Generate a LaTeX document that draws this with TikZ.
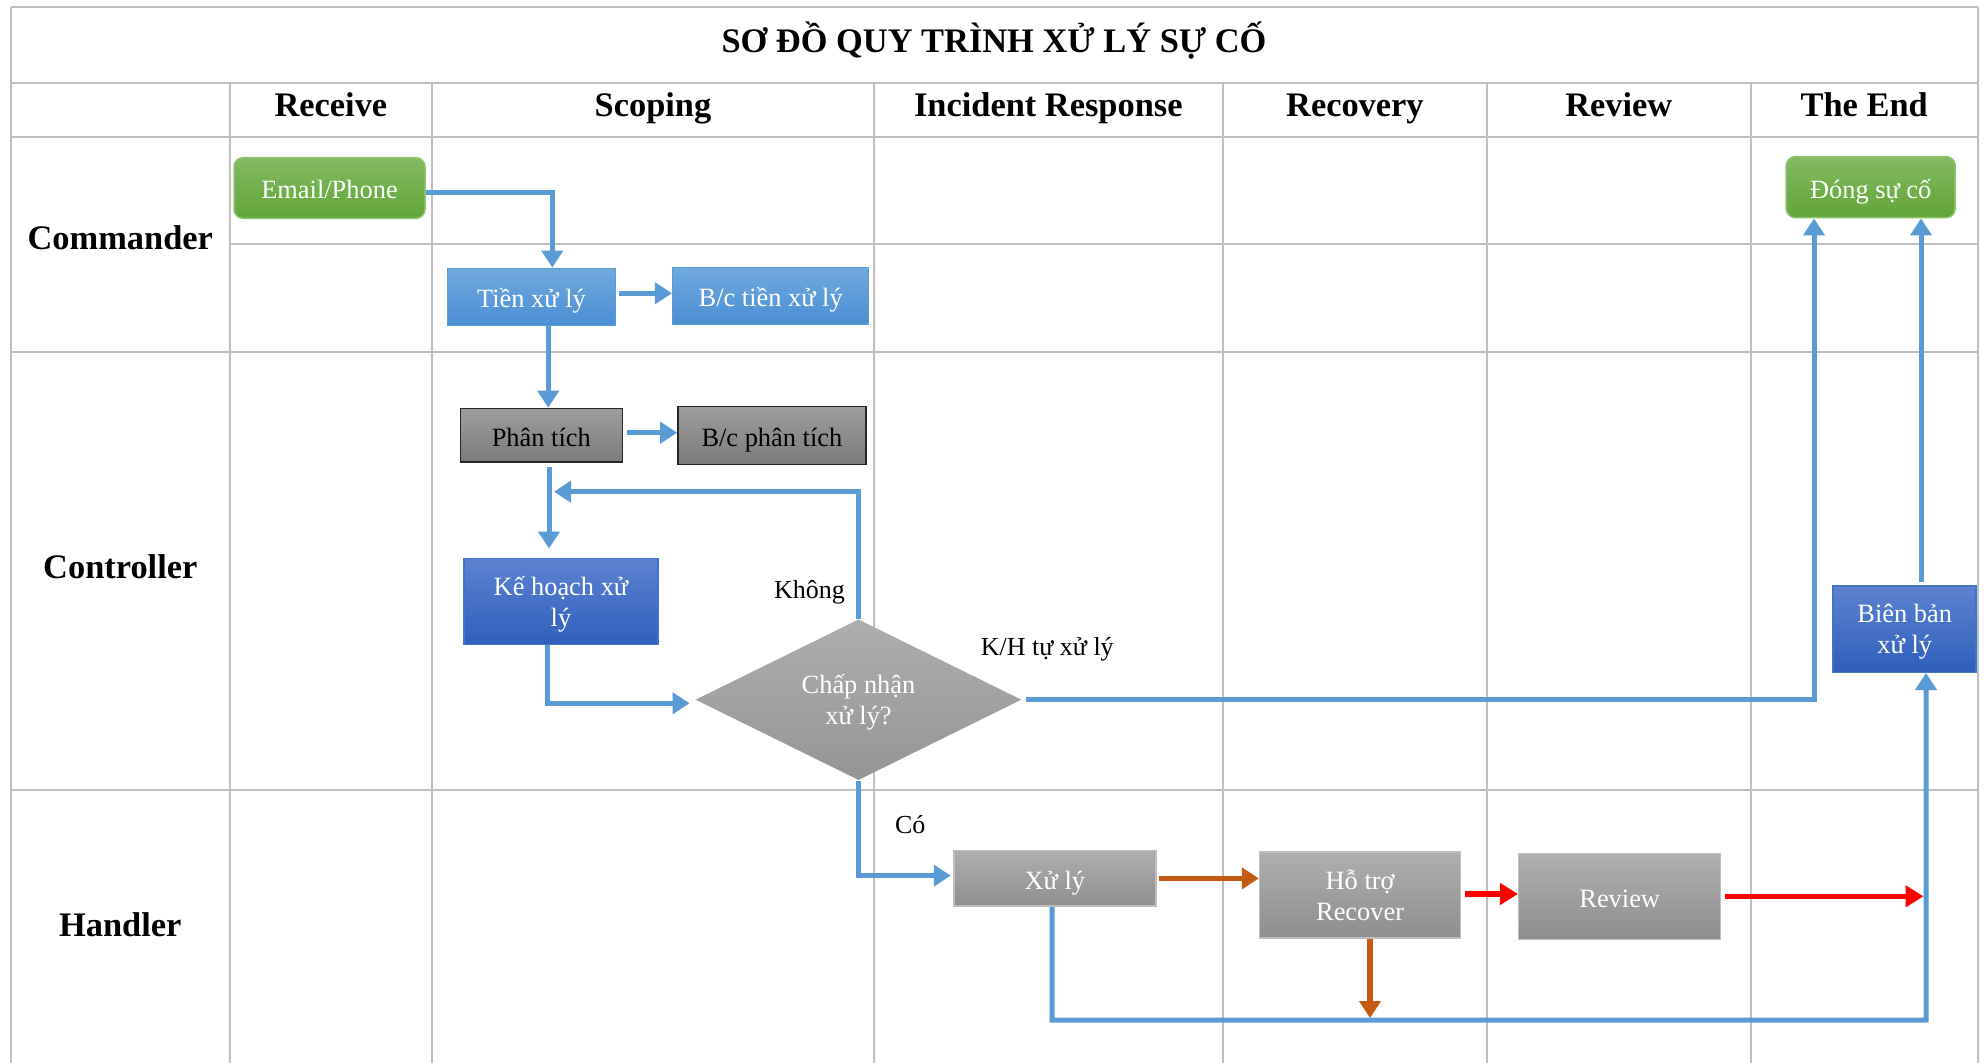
\documentclass[tikz,border=0pt]{standalone}
\usepackage{fontspec}
\setmainfont{Liberation Serif}
\usetikzlibrary{arrows.meta,shapes.geometric,calc}
\definecolor{gridc}{HTML}{BFBFBF}
\definecolor{cblue}{HTML}{5B9BD5}
\definecolor{corange}{HTML}{C55A11}
\definecolor{cred}{HTML}{FF0000}
\definecolor{greentop}{HTML}{83BA62}
\definecolor{greenbot}{HTML}{62A537}
\definecolor{greenbd}{HTML}{8DC46F}
\definecolor{lbtop}{HTML}{70A9DE}
\definecolor{lbbot}{HTML}{4B8ED3}
\definecolor{lbbd}{HTML}{5B9BD5}
\definecolor{dbtop}{HTML}{5D82D0}
\definecolor{dbbot}{HTML}{2F5FBB}
\definecolor{dbbd}{HTML}{4472C4}
\definecolor{gdtop}{HTML}{9E9E9E}
\definecolor{gdbot}{HTML}{7B7B7B}
\definecolor{gltop}{HTML}{AFAFAF}
\definecolor{glbot}{HTML}{8E8E8E}
\definecolor{diatop}{HTML}{AEAEAE}
\definecolor{diabot}{HTML}{959595}
\begin{document}
\begin{tikzpicture}[x=0.5pt,y=-0.5pt,
  gridline/.style={draw=gridc,line width=1pt},
  headtxt/.style={font=\fontsize{17.2}{20}\selectfont\bfseries,anchor=base,inner sep=0pt},
  lbl/.style={font=\fontsize{13}{15.6}\selectfont,inner sep=0pt},
  box/.style={inner sep=2pt,align=center,font=\fontsize{13.2}{15.6}\selectfont,line width=0.75pt},
  oneline/.style={text height=11pt,text depth=0pt},
  twoline/.style={text depth=0pt},
  greenbox/.style={box,draw=greenbd,rounded corners=4.5pt,top color=greentop,bottom color=greenbot,text=white},
  lbluebox/.style={box,draw=lbbd,top color=lbtop,bottom color=lbbot,text=white},
  dbluebox/.style={box,draw=dbbd,top color=dbtop,bottom color=dbbot,text=white},
  dgraybox/.style={box,draw=black!85,top color=gdtop,bottom color=gdbot,text=black},
  lgraybox/.style={box,draw=gridc,top color=gltop,bottom color=glbot,text=white},
  decision/.style={diamond,aspect=2,inner sep=0pt,align=center,font=\fontsize{13.2}{15.6}\selectfont,
    top color=diatop,bottom color=diabot,text=white},
  conn/.style={line width=2.5pt,draw=cblue,-{Triangle[length=8.5pt,width=10.5pt]}},
  orconn/.style={line width=2.6pt,draw=corange,-{Triangle[length=8.5pt,width=10.5pt]}},
  redconn/.style={line width=2.6pt,draw=cred,-{Triangle[length=9pt,width=10.5pt]}}
]
\useasboundingbox (0,0) rectangle (1984,1063);
% ---------- grid ----------
\draw[gridline] (11,6.7) -- (1977.7,6.7);
\draw[gridline] (11,83.3) -- (1977.7,83.3);
\draw[gridline] (11,136.7) -- (1977.7,136.7);
\draw[gridline] (229.6,243.7) -- (1977.7,243.7);
\draw[gridline] (11,351.7) -- (1977.7,351.7);
\draw[gridline] (11,790) -- (1977.7,790);
\draw[gridline] (11,6.7) -- (11,1063);
\draw[gridline] (1977.7,6.7) -- (1977.7,1063);
\foreach \xx in {229.6,432.2,873.7,1222.8,1487,1750.6}
  \draw[gridline] (\xx,83.3) -- (\xx,1063);
% ---------- titles ----------
\node[headtxt] (title) at (994,52.5) {SƠ ĐỒ QUY TRÌNH XỬ LÝ SỰ CỐ};
\node[headtxt] (hReceive) at (330.9,117) {Receive};
\node[headtxt] (hScoping) at (653,117) {Scoping};
\node[headtxt] (hIncident) at (1048.3,117) {Incident Response};
\node[headtxt] (hRecovery) at (1354.9,117) {Recovery};
\node[headtxt] (hReview) at (1618.8,117) {Review};
\node[headtxt] (hEnd) at (1864.2,117) {The End};
\node[headtxt] (rCommander) at (120.3,250) {Commander};
\node[headtxt] (rController) at (120.3,578.5) {Controller};
\node[headtxt] (rHandler) at (120.3,936) {Handler};
% ---------- boxes ----------
\node[greenbox,oneline,minimum width=95.5pt,minimum height=30.3pt] (email) at (329.5,188) {Email/Phone};
\node[lbluebox,oneline,minimum width=84pt,minimum height=28.7pt] (tien) at (531.5,297) {Tiền xử lý};
\node[lbluebox,oneline,minimum width=98pt,minimum height=28.5pt] (bctien) at (770.7,295.8) {B/c tiền xử lý};
\node[dgraybox,oneline,minimum width=81pt,minimum height=26.8pt] (phan) at (541.3,435.2) {Phân tích};
\node[dgraybox,oneline,minimum width=94pt,minimum height=28.8pt] (bcphan) at (771.9,435.5) {B/c phân tích};
\node[dbluebox,twoline,minimum width=97pt,minimum height=42.8pt] (kehoach) at (561,601.5) {Kế hoạch xử\\lý};
\node[decision,twoline,minimum width=163pt,minimum height=80.4pt] (dia) at (858.5,699.7) {Chấp nhận\\xử lý?};
\node[greenbox,oneline,minimum width=84.5pt,minimum height=30.5pt] (dong) at (1870.7,187.2) {Đóng sự cố};
\node[dbluebox,twoline,minimum width=71.5pt,minimum height=43.1pt] (bienban) at (1904.7,629.2) {Biên bản\\xử lý};
\node[lgraybox,oneline,minimum width=101pt,minimum height=27.7pt] (xuly) at (1054.9,878.4) {Xử lý};
\node[lgraybox,minimum width=100.5pt,minimum height=43pt] (hotro) at (1360.1,895) {Hỗ trợ\\Recover};
\node[lgraybox,oneline,minimum width=101pt,minimum height=43pt] (review) at (1619.7,896.3) {Review};
% ---------- labels ----------
\node[lbl,anchor=base] (lKhong) at (809.4,598.3) {Không};
\node[lbl,anchor=base west] (lKH) at (980.4,655) {K/H tự xử lý};
\node[lbl,anchor=base west] (lCo) at (894.6,833.3) {Có};
% ---------- free ends ----------
\coordinate (fb) at (554,491.7);
\coordinate (rvend) at (1923.5,896.7);
\coordinate (botr) at (1926,1020);
\coordinate (orend) at (1370,1018);
% ---------- connectors ----------
\draw[conn] ([yshift=-2.35pt]email.east) -| ([xshift=10.4pt]tien.north);
\draw[conn,shorten <=1.5pt] ([yshift=1.85pt]tien.east) -- ([yshift=1.85pt]tien.east -| bctien.west);
\draw[conn] ([xshift=8.35pt]tien.south) -- ([xshift=8.35pt]tien.south |- phan.north);
\draw[conn,shorten <=2pt] ([yshift=1.25pt]phan.east) -- ([yshift=1.25pt]phan.east -| bcphan.west);
\draw[conn,shorten <=2pt,shorten >=4.7pt] ([xshift=3.85pt]phan.south) -- ([xshift=3.85pt]phan.south |- kehoach.north);
\draw[conn] (dia.north) |- (fb);
\draw[conn,shorten >=2.75pt] ([xshift=-6.85pt]kehoach.south) |- ([yshift=-1.8pt]dia.west);
\draw[conn,shorten <=2pt] (dia.east) -| ([xshift=-28.35pt]dong.south);
\draw[conn,shorten <=1.5pt] ([xshift=8.15pt]bienban.north) -- ([xshift=8.15pt]bienban.north |- dong.south);
\draw[conn,shorten >=1.2pt] (dia.south) |- ([yshift=1.4pt]xuly.west);
\draw[orconn,shorten <=1pt] (xuly.east) -- (xuly.east -| hotro.west);
\draw[redconn,shorten <=2pt] ([yshift=0.5pt]hotro.east) -- ([yshift=0.5pt]hotro.east -| review.west);
\draw[redconn,shorten <=1.7pt] (review.east) -- (review.east -| rvend);
\draw[conn] ([xshift=-1.45pt]xuly.south) |- (botr) -- ([xshift=10.65pt]bienban.south);
\draw[orconn] ([xshift=4.95pt]hotro.south) -- ([xshift=4.95pt]hotro.south |- orend);
\end{tikzpicture}
\end{document}
